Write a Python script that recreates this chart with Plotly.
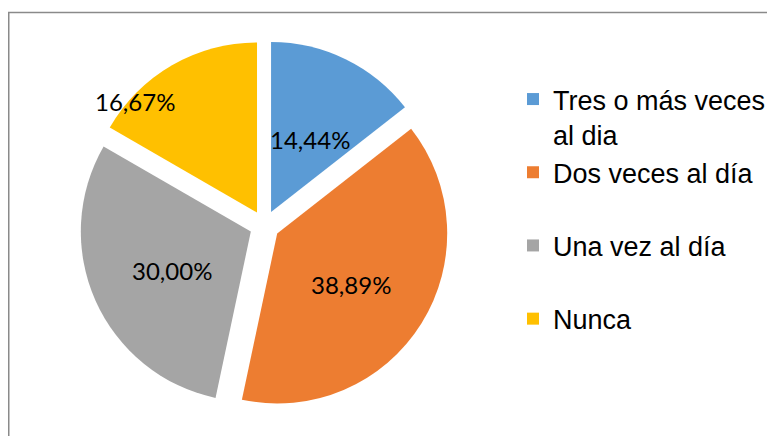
import plotly.graph_objects as go

# ---- data ----
categories = ["Tres o más veces<br>al dia", "Dos veces al día", "Una vez al día", "Nunca"]
values = [14.44, 38.89, 30.00, 16.67]
value_labels = ["14,44%", "38,89%", "30,00%", "16,67%"]
colors = ["#5B9BD5", "#ED7D31", "#A5A5A5", "#FFC000"]

# ---- layout constants (pixels, figure coordinates) ----
W, H = 775, 436
OFF = 8  # page body margin
PULL = 0.088
CX, CY, R = 264.5 - OFF, 225.5 - OFF, 170.0
half = R * (1 + PULL)
label_pos = [(309.5, 139.0), (351.0, 284.0), (171.5, 270.5), (135.0, 101.5)]

# legend entries get a trailing blank line so spacing matches
legend_names = [c if "<br>" in c else c + "<br> " for c in categories]

fig = go.Figure()
fig.add_trace(go.Pie(
    labels=legend_names,
    values=values,
    sort=False,
    direction="clockwise",
    rotation=0,
    pull=[PULL] * len(values),
    marker=dict(colors=colors, line=dict(width=0)),
    textinfo="none",
    hoverinfo="label+percent",
    domain=dict(x=[(CX - half) / W, (CX + half) / W],
                y=[1 - (CY + half) / H, 1 - (CY - half) / H]),
))

for txt, (px, py) in zip(value_labels, label_pos):
    fig.add_annotation(
        x=(px - OFF) / W, y=1 - (py - OFF) / H, xref="paper", yref="paper",
        text=txt, showarrow=False, xanchor="center", yanchor="middle",
        font=dict(family="Lato", size=24, color="#000000"),
    )

# chart border
fig.add_shape(type="rect", xref="paper", yref="paper",
              x0=0.75 / W, x1=1.02, y0=-0.02, y1=1 - 4.5 / H,
              line=dict(color="#8A8A8A", width=1.5), layer="below")

fig.update_layout(
    width=W, height=H,
    margin=dict(l=0, r=0, t=0, b=0),
    paper_bgcolor="white",
    plot_bgcolor="white",
    showlegend=True,
    legend=dict(
        x=505 / W, y=1 - 67 / H, xanchor="left", yanchor="top",
        valign="top",
        font=dict(family="Liberation Sans, Arial", size=27, color="#000000"),
        bgcolor="rgba(0,0,0,0)",
        traceorder="normal",
    ),
)

fig.write_html("out.html")
